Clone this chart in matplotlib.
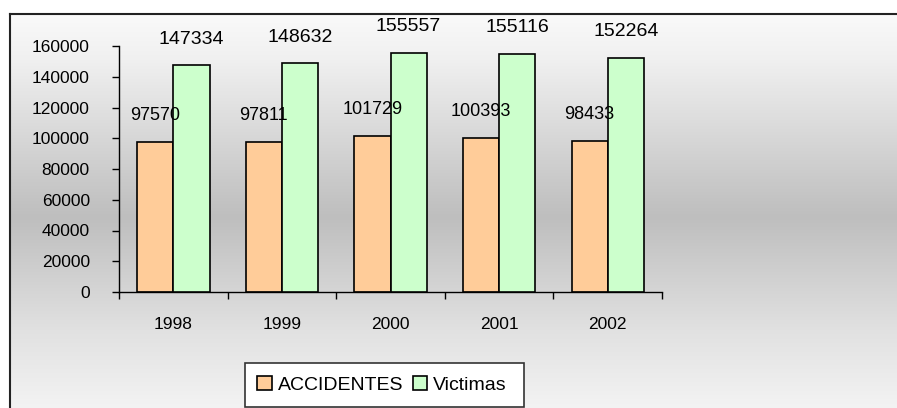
import numpy as np
import matplotlib.pyplot as plt
from matplotlib.lines import Line2D
from matplotlib.patches import Rectangle

plt.rcParams['font.family'] = ['Liberation Sans', 'DejaVu Sans']

years = ['1998', '1999', '2000', '2001', '2002']
accidentes = [97570, 97811, 101729, 100393, 98433]
victimas = [147334, 148632, 155557, 155116, 152264]
yticks = [0, 20000, 40000, 60000, 80000, 100000, 120000, 140000, 160000]

W, H = 897, 408
fig = plt.figure(figsize=(W / 100, H / 100), dpi=100)

# background gradient inside the outer frame
left_px, top_px = 9.5, 13.5
bg = fig.add_axes([left_px / W, 0, 1 - left_px / W, 1 - top_px / H])
bg.set_axis_off()
rows = np.arange(top_px, H)
shade = np.interp(rows, [top_px, 60, 217, 330, H], [250, 240, 190, 225, 243]) / 255
grad = np.repeat(shade[:, None], 2, axis=1)
bg.imshow(np.dstack([grad, grad, grad]), aspect='auto', extent=[0, 1, 0, 1],
          interpolation='bilinear')

fig.add_artist(Line2D([left_px / W, left_px / W], [0, 1 - top_px / H],
                      transform=fig.transFigure, color='#222222', lw=1.5))
fig.add_artist(Line2D([left_px / W, 1], [1 - top_px / H, 1 - top_px / H],
                      transform=fig.transFigure, color='#222222', lw=1.5))

# plot area
ax = fig.add_axes([119 / W, (H - 292) / H, (662 - 119) / W, (292 - 46) / H])
ax.patch.set_visible(False)
x = np.arange(len(years))
w = 1 / 3
b1 = ax.bar(x - w / 2, accidentes, w, color='#FFCC99', edgecolor='black', lw=1.2,
            zorder=2, label='ACCIDENTES')
b2 = ax.bar(x + w / 2, victimas, w, color='#CCFFCC', edgecolor='black', lw=1.2,
            zorder=3, label='Victimas')

for xi, v in zip(x, accidentes):
    ax.annotate(str(v), (xi - w / 2, v), xytext=(0, 19), textcoords='offset points',
                ha='center', va='center', fontsize=13, zorder=4)
for xi, v in zip(x, victimas):
    ax.annotate(str(v), (xi + w / 2, v), xytext=(0, 19), textcoords='offset points',
                ha='center', va='center', fontsize=14, zorder=4)

ax.set_xlim(-0.5, len(years) - 0.5)
ax.set_ylim(0, 160000)
ax.set_yticks(yticks)
ax.set_yticklabels([str(t) for t in yticks])
ax.set_xticks(x)
ax.set_xticklabels(years)
ax.set_xticks(np.arange(len(years) + 1) - 0.5, minor=True)
ax.tick_params(axis='x', which='major', length=0, pad=18, labelsize=12.5)
ax.tick_params(axis='x', which='minor', length=5, width=1, direction='out')
ax.tick_params(axis='y', length=5, width=1, direction='out', pad=16, labelsize=12.5)
for s in ['top', 'right']:
    ax.spines[s].set_visible(False)
for s in ['left', 'bottom']:
    ax.spines[s].set_linewidth(1)

# legend box
fig.add_artist(Rectangle((245 / W, (H - 407) / H), (524 - 245) / W, 44 / H,
                         transform=fig.transFigure, facecolor='white',
                         edgecolor='#333333', lw=1.2))
fig.legend(handles=[b1, b2], loc='center', bbox_to_anchor=(382 / W, (H - 385) / H),
           ncol=2, frameon=False, fontsize=14, handlelength=0.75, handleheight=0.75,
           handletextpad=0.3, columnspacing=0.5)

fig.savefig('out.png', dpi=100)
